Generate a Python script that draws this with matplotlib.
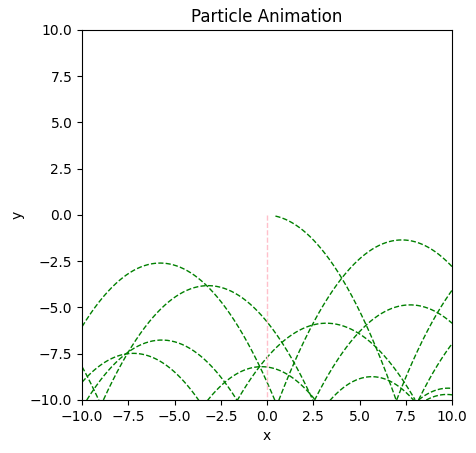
import numpy as np
import matplotlib
matplotlib.use("Agg")
import matplotlib.pyplot as plt

# Each trail arc: apex x, apex y, curvature, x-start, x-end
apex_x = [-0.1, 13.45, -5.78, 7.28, -3.19, 7.73, -5.69, -7.23, 3.2, -0.3, 5.66, 13.28, 9.78, 9.7, -14.55]
apex_y = [0.0, -1.68, -2.6, -1.35, -3.82, -4.86, -6.76, -7.48, -5.85, -8.2, -8.74, -4.8, -9.36, -9.7, -4.06]
curv   = [0.2, 0.2, 0.193, 0.196, 0.193, 0.193, 0.197, 0.203, 0.18, 0.214, 0.25, 0.2, 0.25, 0.25, 0.2]
x_from = [0.45, 7.0, -10, 0, -10, 0, -10, -10, -10, -10, 0, 8.18, 8.18, 8.6, -10]
x_to   = [7.0, 10, 1, 10, 10, 10, 10, 10, 10, 10, 10, 10, 10, 10, -8]

# Falling particle trail (pink)
drop_x = [0.0, 0.0]
drop_y = [0.0, -10.0]

fig = plt.figure(figsize=(4.77, 4.53), dpi=100)
ax = fig.add_axes([0.172, 0.117, 0.776, 0.817])

for hx, ky, c, x0, x1 in zip(apex_x, apex_y, curv, x_from, x_to):
    xs = np.linspace(x0, x1, 400)
    ys = ky - c * (xs - hx) ** 2
    m = ys >= -10.05
    ax.plot(xs[m], ys[m], '--', color='green', lw=1)

ax.plot(drop_x, drop_y, '--', color='pink', lw=1)

ax.set_xlim(-10, 10)
ax.set_ylim(-10, 10)
ax.set_aspect('equal')
ax.set_title('Particle Animation')
ax.set_xlabel('x')
ax.set_ylabel('y')
fig.savefig('out.png', dpi=100)
